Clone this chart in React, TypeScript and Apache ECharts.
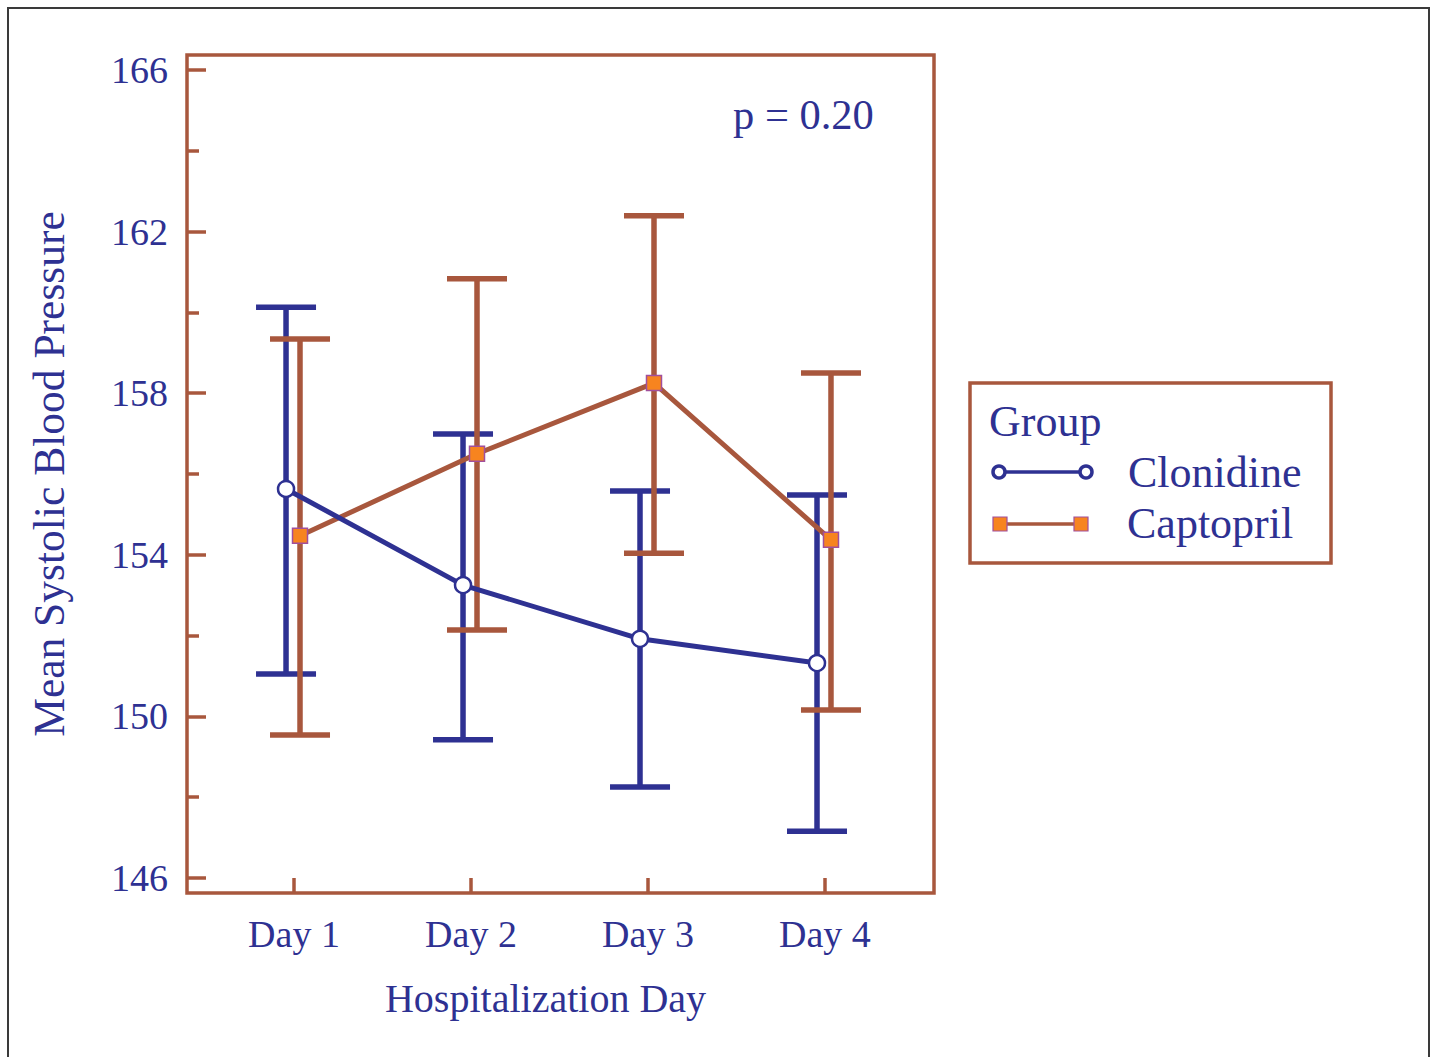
import React, { useEffect, useRef } from "react";
import * as echarts from "echarts";

const dayLabels = ["Day 1", "Day 2", "Day 3", "Day 4"];
const dayPositions = [1, 2, 3, 4];
const seriesNames = ["Clonidine", "Captopril"];
const clonidineMean = [155.63, 153.25, 151.92, 151.32];
const clonidineHigh = [160.13, 156.99, 155.58, 155.48];
const clonidineLow = [151.05, 149.42, 148.25, 147.16];
const captoprilMean = [154.47, 156.5, 158.25, 154.37];
const captoprilHigh = [159.34, 160.83, 162.39, 158.5];
const captoprilLow = [149.54, 152.14, 154.04, 150.16];
const majorTicks = [146, 150, 154, 158, 162, 166];
const minorTicks = [148, 152, 156, 160, 164];
const pText = "p = 0.20";

const BLUE = "#2e3192";
const BROWN = "#a8573d";
const ORANGE = "#f7841f";
const PURPLE = "#a14f9c";
const FONT = "Liberation Serif";
const OFF_C = -0.045;
const OFF_K = 0.034;

export default function App() {
  const ref = useRef<HTMLDivElement>(null);
  useEffect(() => {
    document.body.style.margin = "0";
    document.body.style.overflow = "hidden";
    const chart = echarts.init(ref.current!, undefined, { renderer: "svg" });

    const errItem = (pos: number[], lo: number[], hi: number[], off: number) =>
      pos.map((p, i) => [p + off, lo[i], hi[i]]);

    const errorSeries = (name: string, data: number[][], color: string) => ({
      type: "custom",
      name: name + " error",
      data,
      encode: { x: 0, y: [1, 2] },
      z: 2,
      silent: true,
      renderItem: (params: any, api: any) => {
        const x = api.value(0);
        const lo = api.coord([x, api.value(1)]);
        const hi = api.coord([x, api.value(2)]);
        const half = 30;
        const style = { stroke: color, lineWidth: 5.5 };
        return {
          type: "group",
          children: [
            { type: "line", shape: { x1: hi[0], y1: hi[1], x2: lo[0], y2: lo[1] }, style },
            { type: "line", shape: { x1: hi[0] - half, y1: hi[1], x2: hi[0] + half, y2: hi[1] }, style },
            { type: "line", shape: { x1: lo[0] - half, y1: lo[1], x2: lo[0] + half, y2: lo[1] }, style },
          ],
        };
      },
    });

    const axisFont = { fontFamily: FONT, fontSize: 38, color: BLUE };

    const legendX = 970, legendY = 383;
    const legendFont = `44px "${FONT}"`;
    chart.setOption({
      animation: false,
      backgroundColor: "#ffffff",
      grid: {
        left: 187,
        top: 55,
        width: 747,
        height: 838,
        show: true,
        borderColor: BROWN,
        borderWidth: 3.5,
        backgroundColor: "transparent",
      },
      xAxis: {
        type: "value",
        min: 0.3955,
        max: 4.616,
        axisLine: { show: false },
        splitLine: { show: false },
        axisTick: {
          show: true,
          inside: true,
          length: 15,
          customValues: dayPositions,
          lineStyle: { color: BROWN, width: 3.5 },
        },
        axisLabel: {
          customValues: dayPositions,
          formatter: (v: number) => dayLabels[dayPositions.indexOf(v)] ?? "",
          margin: 22,
          ...axisFont,
        },
        name: "Hospitalization Day",
        nameLocation: "middle",
        nameGap: 85,
        nameTextStyle: { ...axisFont, fontSize: 40, padding: [0, 30, 0, 0] },
      },
      yAxis: [
        {
          type: "value",
          min: 145.629,
          max: 166.371,
          axisLine: { show: false },
          splitLine: { show: false },
          axisTick: {
            show: true,
            inside: true,
            length: 19,
            customValues: majorTicks,
            lineStyle: { color: BROWN, width: 3.5 },
          },
          axisLabel: {
            customValues: majorTicks,
            margin: 19,
            ...axisFont,
          },
          name: "Mean Systolic Blood Pressure",
          nameLocation: "middle",
          nameGap: 116,
          nameTextStyle: { ...axisFont, fontSize: 43.5 },
        },
        {
          type: "value",
          position: "left",
          min: 145.629,
          max: 166.371,
          axisLine: { show: false },
          splitLine: { show: false },
          axisLabel: { show: false, customValues: minorTicks },
          axisTick: {
            show: true,
            inside: true,
            length: 12,
            customValues: minorTicks,
            lineStyle: { color: BROWN, width: 3.5 },
          },
        },
      ],
      series: [
        errorSeries(seriesNames[0], errItem(dayPositions, clonidineLow, clonidineHigh, OFF_C), BLUE),
        errorSeries(seriesNames[1], errItem(dayPositions, captoprilLow, captoprilHigh, OFF_K), BROWN),
        {
          type: "line",
          name: seriesNames[0],
          data: dayPositions.map((p, i) => [p + OFF_C, clonidineMean[i]]),
          z: 4,
          symbol: "circle",
          symbolSize: 16,
          lineStyle: { color: BLUE, width: 5 },
          itemStyle: { color: "#ffffff", borderColor: BLUE, borderWidth: 2.5 },
        },
        {
          type: "line",
          name: seriesNames[1],
          data: dayPositions.map((p, i) => [p + OFF_K, captoprilMean[i]]),
          z: 3,
          symbol: "rect",
          symbolSize: 15,
          lineStyle: { color: BROWN, width: 5 },
          itemStyle: { color: ORANGE, borderColor: PURPLE, borderWidth: 1.5 },
        },
      ],
      graphic: [
        {
          type: "rect",
          shape: { x: 8, y: 8, width: 1421, height: 1100 },
          style: { fill: "none", stroke: "#3a3a3a", lineWidth: 2 },
          silent: true,
        },
        {
          type: "text",
          x: 733,
          y: 114,
          style: { text: pText, font: `42.5px "${FONT}"`, fill: BLUE, verticalAlign: "middle" },
        },
        {
          type: "group",
          x: legendX,
          y: legendY,
          children: [
            {
              type: "rect",
              shape: { x: 0, y: 0, width: 361, height: 180 },
              style: { fill: "#fff", stroke: BROWN, lineWidth: 3.5 },
            },
            {
              type: "text",
              x: 19,
              y: 38,
              style: { text: "Group", font: legendFont, fill: BLUE, verticalAlign: "middle" },
            },
            {
              type: "line",
              shape: { x1: 30, y1: 89, x2: 115, y2: 89 },
              style: { stroke: BLUE, lineWidth: 3.5 },
            },
            { type: "circle", shape: { cx: 29, cy: 89, r: 6 }, style: { fill: "#fff", stroke: BLUE, lineWidth: 3.5 } },
            { type: "circle", shape: { cx: 116, cy: 89, r: 6 }, style: { fill: "#fff", stroke: BLUE, lineWidth: 3.5 } },
            {
              type: "text",
              x: 158,
              y: 89,
              style: { text: seriesNames[0], font: legendFont, fill: BLUE, verticalAlign: "middle" },
            },
            {
              type: "line",
              shape: { x1: 36, y1: 141, x2: 112, y2: 141 },
              style: { stroke: BROWN, lineWidth: 3.5 },
            },
            { type: "rect", shape: { x: 23, y: 134, width: 14, height: 14 }, style: { fill: ORANGE, stroke: PURPLE, lineWidth: 1.2 } },
            { type: "rect", shape: { x: 104, y: 134, width: 14, height: 14 }, style: { fill: ORANGE, stroke: PURPLE, lineWidth: 1.2 } },
            {
              type: "text",
              x: 157,
              y: 140,
              style: { text: seriesNames[1], font: legendFont, fill: BLUE, verticalAlign: "middle" },
            },
          ],
        },
      ],
    });
    return () => chart.dispose();
  }, []);
  return <div ref={ref} style={{ width: 1432, height: 1057 }} />;
}
